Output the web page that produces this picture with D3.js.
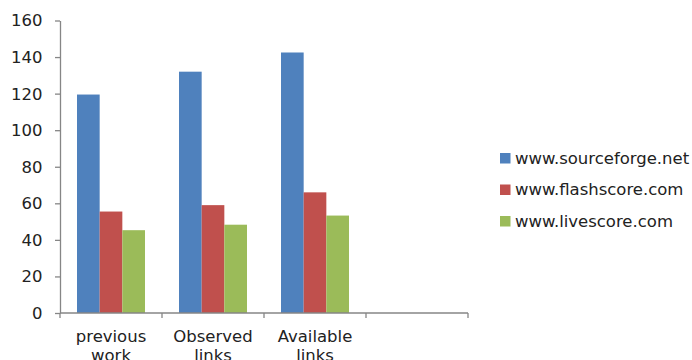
<!DOCTYPE html>
<html><head><meta charset="utf-8">
<script src="https://cdn.jsdelivr.net/npm/d3@7"></script>
<style>body{margin:0;background:#fff}svg{display:block}</style>
</head><body>
<svg id="c" width="692" height="360"></svg>
<script>
const categories = [["previous","work"],["Observed","links"],["Available","links"],[]];
const seriesNames = ["www.sourceforge.net","www.flashscore.com","www.livescore.com"];
const sourceforge = [119.5, 132, 142.5, null];
const flashscore = [55.5, 59, 66, null];
const livescore = [45.3, 48.3, 53.3, null];
const yTicks = [0,20,40,60,80,100,120,140,160];
const colors = ["#4F81BD","#C0504D","#9BBB59"];
const series = [sourceforge, flashscore, livescore];

(function(){
const svg = d3.select("#c");
const mL = 60, mR = 468, mT = 20.5, mB = 313;
const font = "DejaVu Sans";
const sx = 1.1;

const x = d3.scaleBand().domain(d3.range(categories.length)).range([mL, mR]).paddingInner(0).paddingOuter(0);
const barW = x.bandwidth()/(series.length+1.5);
const y = d3.scaleLinear().domain([0,160]).range([mB, mT]);

series.forEach((s,si)=>{
  svg.append("g").selectAll("rect").data(s.map((v,i)=>({v,i})).filter(d=>d.v!=null)).join("rect")
    .attr("x", d=>x(d.i)+barW*0.75+si*barW)
    .attr("width", barW)
    .attr("y", d=>y(d.v))
    .attr("height", d=>mB-y(d.v))
    .attr("fill", colors[si]);
});

const ya = svg.append("g").attr("transform",`translate(${mL},0)`)
  .call(d3.axisLeft(y).tickValues(yTicks).tickSize(5).tickPadding(0).tickSizeOuter(0));
ya.select(".domain").attr("stroke","#868686").attr("stroke-width",1.3);
ya.selectAll(".tick line").attr("stroke","#868686").attr("stroke-width",1.3);
ya.selectAll(".tick text").remove();
ya.selectAll(".tick").append("text")
  .attr("transform",`translate(-17.5,0) scale(${sx},1)`)
  .attr("text-anchor","end").attr("dy","0.36em")
  .attr("font-family",font).attr("font-size",15).attr("fill","#222")
  .text(d=>d);

const xa = svg.append("g").attr("transform",`translate(0,${mB})`);
const bounds = d3.range(categories.length+1).map(i=> i<categories.length ? x(i) : x(categories.length-1)+x.bandwidth());
xa.append("line").attr("x1",mL).attr("x2",mR).attr("y1",0).attr("y2",0).attr("stroke","#868686").attr("stroke-width",1.3);
xa.selectAll("line.t").data(bounds).join("line").attr("class","t")
  .attr("x1",d=>d).attr("x2",d=>d).attr("y1",0).attr("y2",5).attr("stroke","#868686").attr("stroke-width",1.3);
categories.forEach((lines,i)=>{
  lines.forEach((t,li)=>{
    xa.append("text")
      .attr("transform",`translate(${x(i)+x.bandwidth()/2},${28.5+li*19}) scale(${sx},1)`)
      .attr("text-anchor","middle")
      .attr("font-family",font).attr("font-size",15).attr("fill","#222")
      .text(t);
  });
});

const lg = svg.append("g");
seriesNames.forEach((n,i)=>{
  const cy = 158.5 + i*31.5;
  lg.append("rect").attr("x",500).attr("y",cy-5.5).attr("width",10.5).attr("height",10.5).attr("fill",colors[i]);
  lg.append("text").attr("transform",`translate(515,${cy}) scale(${sx},1)`).attr("dy","0.36em")
    .attr("font-family",font).attr("font-size",15).attr("fill","#222").text(n);
});
})();
</script>
</body></html>
